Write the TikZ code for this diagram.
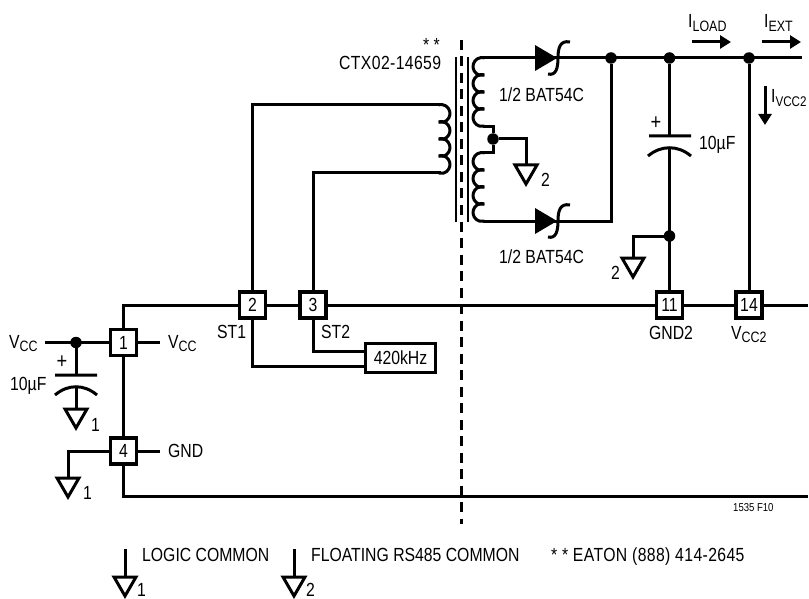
\documentclass[tikz,border=0pt]{standalone}
\usepackage{fontspec}
\setmainfont[FakeStretch=0.83]{Liberation Sans}
\newfontfamily\widefont[FakeStretch=0.83,LetterSpace=2]{Liberation Sans}
\usetikzlibrary{arrows.meta,shapes}
\newcommand{\low}[1]{\raisebox{-3.5pt}{\fontsize{15}{15}\selectfont #1}}
\tikzstyle{pin}=[draw,line width=3.2pt,fill=white,minimum size=26pt,inner sep=0pt,font=\fontsize{19}{19}\selectfont]
\tikzstyle{osc}=[draw,line width=3.2pt,fill=white,minimum width=70pt,minimum height=29pt,inner sep=0pt,font=\fontsize{19}{19}\selectfont]
\tikzstyle{dot}=[circle,fill=black,minimum size=11.5pt,inner sep=0pt]
\tikzstyle{txt}=[anchor=base west,inner sep=0pt,font=\fontsize{19}{19}\selectfont]
\tikzstyle{edge} = [draw,line width=3pt,-,line join=miter]
\tikzstyle{current} = [draw,line width=3pt,-{Triangle[length=11pt,width=13pt]}]
\tikzstyle{fence} = [draw,line width=3.4pt,dash pattern=on 10pt off 6.5pt]
\begin{document}
\begin{tikzpicture}[x=1pt,y=-1pt]
    \useasboundingbox (0,0) rectangle (809,599);

    % First we name the free ends and the corners
    \foreach \pos/\name in {{(45,342.5)/vin}, {(160,342.5)/vout}, {(160,451)/gout}, {(808,305)/railr}, {(808,496)/railb}, {(802,58)/outr}, {(483,58)/sectop}, {(483,221)/secbot}, {(441,105)/primt}, {(441,173)/primb}, {(483,127)/tapa}, {(483,153)/tapb}, {(556,58)/dat}, {(556,221)/dbt}, {(76,375)/capa}, {(76,387)/capb}, {(669.5,136)/capc}, {(669.5,148)/capd}, {(692,42)/la}, {(731,42)/lb}, {(762,42)/ea}, {(801,42)/eb}, {(765,86)/va}, {(765,125)/vb}, {(461.5,40)/fencea}, {(461.5,524)/fenceb}, {(125,549)/lega}, {(294,549)/legb}}
        \path \pos coordinate (\name);

    % Ground tips
    \foreach \pos/\name in {{(76,409)/g1}, {(68,478)/g2}, {(526,165)/g3}, {(633,258)/g4}, {(125,577)/g5}, {(294,577)/g6}}
        \path \pos coordinate (\name);

    % Junctions
    \foreach \pos/\name in {{(76,342.5)/j1}, {(493,139)/j2}, {(611,58)/j3}, {(669.5,58)/j4}, {(749,58)/j5}, {(669.5,236)/j6}}
        \node[dot] (\name) at \pos {};

    % Pins
    \foreach \pos/\name/\num in {{(123.5,342.5)/p1/1}, {(123.5,451)/p4/4}, {(252.5,305)/p2/2}, {(313,305)/p3/3}, {(669.5,305)/p11/11}, {(749,305)/p14/14}}
        \node[pin] (\name) at \pos {\num};
    \node[osc] (clk) at (400.5,358) {420kHz};

    % Connect pins with edges
    \path[edge] (p1.north) |- (p2.west);
    \foreach \source/ \dest in {p2.east/p3.west, p3.east/p11.west, p11.east/p14.west, p14.east/railr, p1.south/p4.north, vin/p1.west, p1.east/vout, p4.east/gout, sectop/dat, dat/outr, j1/capa, capb/g1, j4/capc, capd/p11.north, j5/p14.north, lega/g5, legb/g6}
        \path[edge] (\source) -- (\dest);
    \path[edge] (j2) -| (g3);
    \path[edge] (p4.south) |- (railb);
    \path[edge] (p4.west) -| (g2);
    \path[edge] (p2.south) |- (clk.west |- 0,366);
    \path[edge] (p3.south) |- (clk.west |- 0,351);
    \path[edge] (p2.north) |- (primt);
    \path[edge] (p3.north) |- (primb);
    \path[edge] (secbot) -- (dbt) -| (j3);
    \path[edge] (tapa) -| (j2) |- (tapb);
    \path[edge] (j6) -| (g4);

    % Ground triangles
    \foreach \name in {g1,g2,g3,g4,g5,g6}
        \draw[line width=3pt,fill=white,miter limit=10] (\name) ++(-11,0) -- ++(22,0) -- ++(-11,19) -- cycle;

    % Transformer core and barrier
    \draw[line width=2.8pt] (456,57) -- (456,222) (468,57) -- (468,222);
    \path[fence] (fencea) -- (fenceb);

    % Windings
    \foreach \cy in {113.5,130.5,147.5,164.5}
        \draw[line width=3pt] (441,\cy) ++(105:9pt) arc[start angle=105,end angle=-105,radius=9pt];
    \foreach \cy in {66.5,83.5,100.5,117.5,161.5,178.5,195.5,212.5}
        \draw[line width=3pt] (482,\cy) ++(75:9pt) arc[start angle=75,end angle=285,radius=9pt];

    % Diodes
    \foreach \dy in {58,221} {
        \fill (535,\dy-13) -- (535,\dy+13) -- (557,\dy) -- cycle;
        \draw[line width=3pt] (570,\dy-16) .. controls (560,\dy-18) and (558,\dy-10) .. (558,\dy) .. controls (558,\dy+10) and (556,\dy+18) .. (548,\dy+16);
    }

    % Capacitor plates
    \draw[line width=3pt] (55,375) -- (97,375) (55,395) .. controls (68,384) and (84,384) .. (97,395);
    \draw[line width=3pt] (649,136) -- (691,136) (648,156) .. controls (661,145) and (678,145) .. (691,156);

    % Current arrows
    \path[current] (la) -- (lb);
    \path[current] (ea) -- (eb);
    \path[current] (va) -- (vb);

    % Labels
    \foreach \pos/\name/\lab in {{(9,348)/t1/V\low{CC}}, {(168,348)/t2/V\low{CC}}, {(168,457)/t3/GND}, {(10,390)/t4/10µF}, {(91,431)/t6/1}, {(83,499)/t7/1}, {(541,186)/t8/2}, {(611,279)/t9/2}, {(339,70)/t10/\widefont CTX02-14659}, {(423,52)/t11/* *}, {(217,338)/t14/ST1}, {(321,338)/t15/ST2}, {(649,339)/t16/GND2}, {(731,339)/t17/V\low{CC2}}, {(699,150)/t19/10µF}, {(688,28)/t20/I\low{LOAD}}, {(764,28)/t21/I\low{EXT}}, {(142,561)/t23/LOGIC COMMON}, {(311,561)/t24/FLOATING RS485 COMMON}, {(551,561)/t25/\widefont * * EATON (888) 414-2645}, {(137,596)/t26/1}, {(306,596)/t27/2}}
        \node[txt] (\name) at \pos {\lab};
    \node[txt] (t22) at (771,103) {I\raisebox{-3.5pt}{\fontsize{14}{14}\selectfont VCC2}};
    \node[txt] (t12) at (499,102) {1/2 BAT54C};
    \node[txt] (t13) at (499,263) {1/2 BAT54C};
    \node[font=\fontsize{22}{22}\selectfont,inner sep=0pt] (t5) at (62,362) {+};
    \node[font=\fontsize{22}{22}\selectfont,inner sep=0pt] (t18) at (656,123) {+};
    \node[txt,font=\fontsize{11.5}{11.5}\selectfont] (fig) at (733,511) {1535 F10};
\end{tikzpicture}
\end{document}
